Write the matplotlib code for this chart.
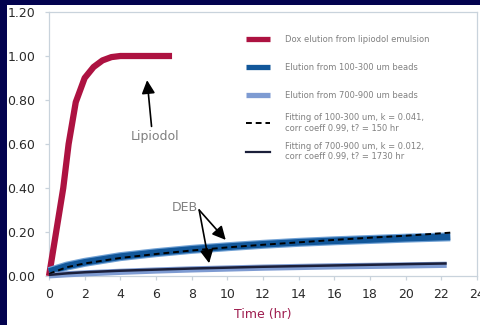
import numpy as np
from matplotlib import pyplot as plt
from matplotlib.patches import Rectangle
from matplotlib.lines import Line2D

lip_t = [0, 0.4, 0.8, 1.1, 1.5, 2, 2.5, 3, 3.5, 4, 5, 6, 6.9]
lip_y = [0, 0.2, 0.4, 0.6, 0.79, 0.9, 0.95, 0.98, 0.995, 1.0, 1.0, 1.0, 1.0]

deb_t = [0, 1, 2, 4, 6, 8, 10, 12, 14, 16, 18, 20, 22.5]
small_y = [0.02, 0.045, 0.062, 0.088, 0.106, 0.121, 0.133, 0.144, 0.153, 0.160, 0.166, 0.172, 0.178]
small_fit = [0.01, 0.04, 0.057, 0.082, 0.100, 0.116, 0.130, 0.142, 0.153, 0.164, 0.174, 0.183, 0.197]

big_t = [0, 1, 2, 4, 6, 8, 10, 12, 14, 16, 18, 20, 22.3]
big_y = [0.003, 0.008, 0.012, 0.019, 0.025, 0.030, 0.034, 0.038, 0.041, 0.044, 0.046, 0.048, 0.051]
big_fit = [0.005, 0.012, 0.017, 0.024, 0.029, 0.034, 0.038, 0.042, 0.045, 0.048, 0.051, 0.054, 0.057]

labels = ['Dox elution from lipiodol emulsion',
          'Elution from 100-300 um beads',
          'Elution from 700-900 um beads',
          'Fitting of 100-300 um, k = 0.041,\ncorr coeff 0.99, t? = 150 hr',
          'Fitting of 700-900 um, k = 0.012,\ncorr coeff 0.99, t? = 1730 hr']

red = '#ad1241'
blue = '#12579a'
lblue = '#7e9bd2'
dark = '#1b1f3a'
grid_c = '#c9d3dc'
gray = '#808080'

fig = plt.figure(figsize=(4.81, 3.25), dpi=100, facecolor='#03034f')
# white slide panel behind the chart
fig.patches.append(Rectangle((7/481, 0), 1, 320/325, transform=fig.transFigure,
                             facecolor='white', edgecolor='none', zorder=-10))
ax = fig.add_axes([49/481, 49/325, 428/481, 264/325])
ax.set_facecolor('white')

ax.plot(lip_t, lip_y, color=red, lw=4.5, solid_capstyle='butt', zorder=3, clip_on=False)
ax.plot(deb_t, small_y, color='#6fa0d4', lw=6.5, solid_capstyle='butt', zorder=3, clip_on=False)
ax.plot(deb_t, small_y, color=blue, lw=4.8, solid_capstyle='butt', zorder=3, clip_on=False)
ax.plot(deb_t, small_fit, color='black', lw=1.4, ls=(0, (3, 2)), zorder=4, clip_on=False)
ax.plot(big_t, big_y, color=lblue, lw=4.5, solid_capstyle='butt', zorder=3, clip_on=False)
ax.plot(big_t, big_fit, color=dark, lw=1.8, solid_capstyle='butt', zorder=4, clip_on=False)

ax.set_xlim(0, 24)
ax.set_ylim(0, 1.2)
ax.set_xticks(np.arange(0, 25, 2))
ax.set_yticks(np.arange(0, 1.21, 0.2))
ax.set_yticklabels(['%.2f' % v for v in np.arange(0, 1.21, 0.2)])
for s in ax.spines.values():
    s.set_color(grid_c)
    s.set_linewidth(0.9)
ax.tick_params(direction='out', length=3, width=0.9, color=grid_c,
               labelsize=9, labelcolor='#2a2a2a')
ax.tick_params(axis='x', pad=5.5)
ax.tick_params(axis='y', pad=7)
ax.set_xlabel('Time (hr)', color='#9e1c4e', fontsize=9, labelpad=5)

arrow = dict(arrowstyle='-|>', color='black', lw=1.2, mutation_scale=20,
             shrinkA=0, shrinkB=0)
ax.annotate('', xy=(5.5, 0.89), xytext=(5.75, 0.68), arrowprops=arrow)
ax.text(5.97, 0.633, 'Lipiodol', color=gray, fontsize=9, ha='center', va='center')
ax.annotate('', xy=(9.91, 0.164), xytext=(8.42, 0.30), arrowprops=arrow)
ax.annotate('', xy=(8.98, 0.058), xytext=(8.42, 0.30), arrowprops=arrow)
ax.text(7.6, 0.31, 'DEB', color=gray, fontsize=9, ha='center', va='center')

h1 = [Line2D([], [], color=red, lw=3.8, solid_capstyle='butt'),
      Line2D([], [], color=blue, lw=3.8, solid_capstyle='butt'),
      Line2D([], [], color=lblue, lw=3.8, solid_capstyle='butt')]
h2 = [Line2D([], [], color='black', lw=1.4, ls=(0, (3, 2))),
      Line2D([], [], color=dark, lw=1.6)]
leg1 = ax.legend(h1, labels[:3], loc='upper left', bbox_to_anchor=(0.46, 0.913),
                 frameon=False, fontsize=6, labelcolor=gray, handlelength=2.9,
                 handletextpad=1.8, labelspacing=2.3, borderpad=0, borderaxespad=0)
ax.add_artist(leg1)
ax.legend(h2, labels[3:], loc='upper left', bbox_to_anchor=(0.46, 0.617),
          frameon=False, fontsize=6, labelcolor=gray, handlelength=2.9,
          handletextpad=1.8, labelspacing=1.1, borderpad=0, borderaxespad=0)

fig.savefig('out.png', dpi=100, facecolor=fig.get_facecolor())
